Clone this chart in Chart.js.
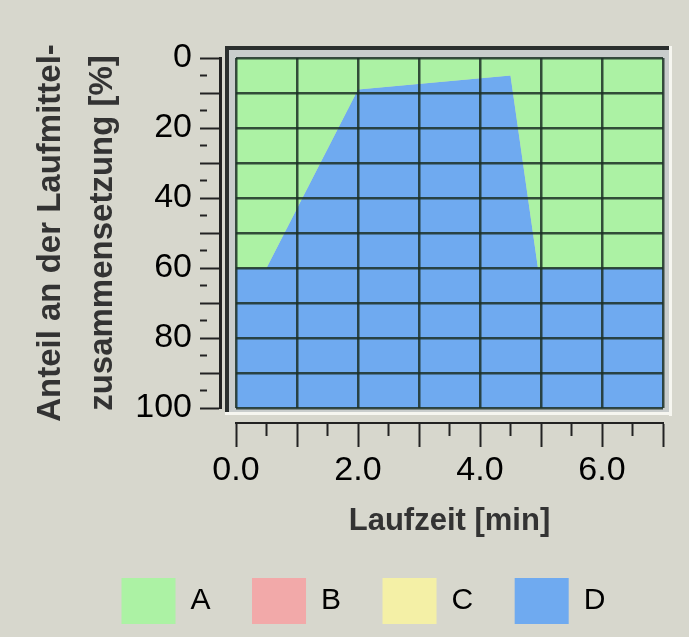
<!DOCTYPE html>
<html>
<head>
<meta charset="utf-8">
<script src="https://cdn.jsdelivr.net/npm/chart.js@4"></script>
<style>
  html, body { margin: 0; padding: 0; background: #d7d7cd; }
  #wrap { width: 689px; height: 637px; }
</style>
</head>
<body>
<div id="wrap"><canvas id="chart" width="689" height="637"></canvas></div>
<script>
// time axis (min) and solvent shares (%)
const time = [0, 0.5, 2.0, 4.5, 4.95, 7.0];
const shareA = [60, 60, 9, 5, 60, 60];
const shareB = [0, 0, 0, 0, 0, 0];
const shareC = [0, 0, 0, 0, 0, 0];
const shareD = [40, 40, 91, 95, 40, 40];
const seriesNames = ['A', 'B', 'C', 'D'];
const seriesColors = ['#acf2a4', '#f2a9a9', '#f4f0a6', '#6faaf0'];
const xTickLabels = ['0.0', '2.0', '4.0', '6.0'];
const yTickLabels = ['0', '20', '40', '60', '80', '100'];

const FONT = "'Liberation Sans', Arial, sans-serif";
const gridColor = 'rgba(28, 48, 38, 0.85)';
const isMinor = (v, step) => Math.abs(v / step - Math.round(v / step)) > 1e-6;

const fills = ['origin', false, false, '-1'];
const datasets = [shareA, shareB, shareC, shareD].map((arr, i) => ({
  label: seriesNames[i],
  data: time.map((t, j) => ({ x: t, y: arr[j] })),
  backgroundColor: seriesColors[i],
  borderColor: seriesColors[i],
  borderWidth: 0,
  pointRadius: 0,
  tension: 0,
  fill: fills[i],
  xAxisID: 'x',
  yAxisID: 'y'
}));

// sunken frame round the plot
const framePlugin = {
  id: 'frame',
  beforeDraw(chart) {
    const { ctx, chartArea: a } = chart;
    ctx.save();
    ctx.fillStyle = '#d7d7cd';
    ctx.fillRect(0, 0, chart.width, chart.height);
    ctx.fillStyle = '#c9cdcc';
    ctx.fillRect(a.left - 11, a.top - 12, a.width + 20, a.height + 19);
    ctx.fillStyle = '#2b2f2e';
    ctx.fillRect(a.left - 11, a.top - 12, a.width + 17, 4);
    ctx.fillRect(a.left - 11, a.top - 12, 4, a.height + 18);
    ctx.fillStyle = '#f6f6f0';
    ctx.fillRect(a.right + 6, a.top - 12, 3, a.height + 20);
    ctx.fillRect(a.left - 11, a.bottom + 4, a.width + 20, 3);
    ctx.restore();
  }
};

new Chart(document.getElementById('chart'), {
  type: 'line',
  data: { datasets },
  plugins: [framePlugin],
  options: {
    responsive: false,
    animation: false,
    layout: { padding: { left: 80, right: 26, top: 58, bottom: 3 } },
    plugins: {
      tooltip: { enabled: false },
      legend: {
        position: 'bottom',
        align: 'start',
        labels: {
          boxWidth: 54,
          boxHeight: 46,
          padding: 41.5,
          color: '#000',
          font: { family: FONT, size: 30 }
        }
      }
    },
    scales: {
      x: {
        type: 'linear', position: 'bottom', weight: 0, min: 0, max: 7,
        ticks: { display: false, stepSize: 1 },
        grid: { color: gridColor, lineWidth: 2.5, drawTicks: false, z: 1 },
        border: { display: false },
        afterFit: s => { s.height = 15; }
      },
      x2: {
        type: 'linear', position: 'bottom', weight: 1, min: 0, max: 7,
        ticks: {
          stepSize: 0.5, autoSkip: false, maxRotation: 0, padding: 3, color: '#000',
          font: { family: FONT, size: 34, lineHeight: 1.2 },
          callback: v => { const s = v.toFixed(1); return xTickLabels.includes(s) ? s : ''; }
        },
        grid: {
          drawOnChartArea: false, tickLength: 24, tickWidth: 2, tickColor: '#222',
          tickBorderDash: c => (c.tick && isMinor(c.tick.value, 1)) ? [12, 40] : []
        },
        border: { display: true, color: '#222', width: 2 },
        title: {
          display: true, text: 'Laufzeit [min]', color: '#333',
          font: { family: FONT, size: 31, weight: 'bold', lineHeight: 1 },
          padding: { top: 0, bottom: 0 }
        },
        afterFit: s => { s.height = 113.5; }
      },
      y: {
        type: 'linear', position: 'left', weight: 0, min: 0, max: 100, reverse: true, stacked: true,
        ticks: { display: false, stepSize: 10 },
        grid: { color: gridColor, lineWidth: 2.5, drawTicks: false, z: 1 },
        border: { display: false },
        afterFit: s => { s.width = 16; }
      },
      y2: {
        type: 'linear', position: 'left', weight: 1, min: 0, max: 100, reverse: true,
        ticks: {
          stepSize: 5, autoSkip: false, padding: 8, color: '#000',
          font: { family: FONT, size: 34 },
          callback: v => yTickLabels.includes(String(v)) ? String(v) : ''
        },
        grid: {
          drawOnChartArea: false, tickLength: 20, tickWidth: 2, tickColor: '#222',
          tickBorderDash: c => (c.tick && isMinor(c.tick.value, 10)) ? [7, 40] : []
        },
        border: { display: true, color: '#222', width: 3 },
        title: {
          display: true,
          text: ['Anteil an der Laufmittel-', 'zusammensetzung [%]'],
          color: '#333',
          font: { family: FONT, size: 33, weight: 'bold', lineHeight: 1.58 },
          padding: { top: -55, bottom: 0 }
        },
        afterFit: s => { s.width = 140; }
      }
    }
  }
});
</script>
</body>
</html>
